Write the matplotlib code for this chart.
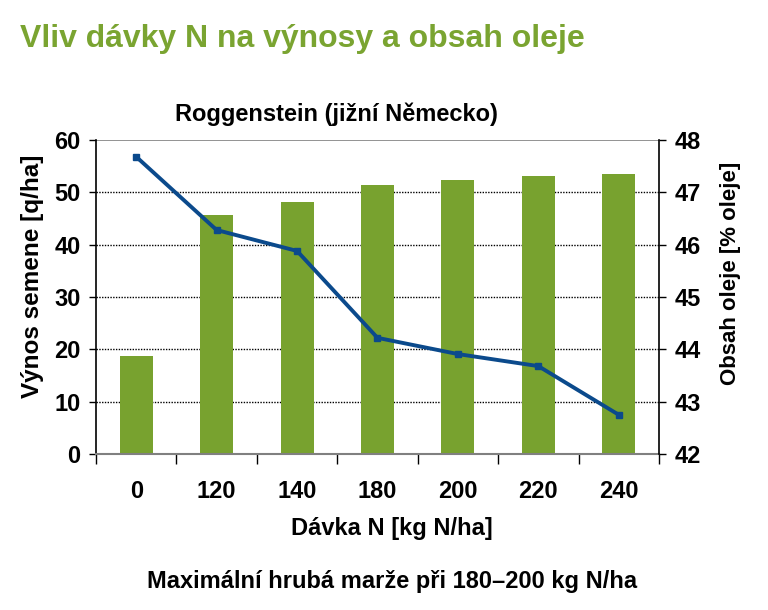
import matplotlib.pyplot as plt
import numpy as np

# data
davky = ["0", "120", "140", "180", "200", "220", "240"]
vynos = [18.7, 45.7, 48.2, 51.4, 52.4, 53.1, 53.5]        # q/ha
olej = [47.68, 46.28, 45.88, 44.22, 43.91, 43.68, 42.75]  # % oleje

green = "#78A22F"
blue = "#0B4A8C"

plt.rcParams["font.family"] = ["Liberation Sans", "DejaVu Sans"]
plt.rcParams["font.weight"] = "bold"

fig = plt.figure(figsize=(7.68, 6.10), dpi=100)
ax = fig.add_axes([0.125, 0.2557, 0.733, 0.5148])

x = np.arange(len(davky))
ax.bar(x, vynos, width=0.41, color=green, zorder=2)
ax.set_xlim(-0.5, len(davky) - 0.5)
ax.set_ylim(0, 60)
ax.set_yticks(range(0, 61, 10))

# gridlines: dotted, top one solid gray
for v in range(10, 60, 10):
    ax.axhline(v, color="black", lw=1, ls=(0, (1, 1)), zorder=1)
ax.axhline(60, color="#808080", lw=1.2, zorder=1)

ax.set_xticks(x)
ax.set_xticklabels(davky)
ax.set_xticks(np.arange(-0.5, len(davky), 1), minor=True)
ax.tick_params(axis="x", which="major", length=0, pad=19, labelsize=17)
ax.tick_params(axis="x", which="minor", length=7, width=1, color="black")
ax.tick_params(axis="y", length=5, width=1, labelsize=17, pad=6)

ax.spines["top"].set_visible(False)
ax.spines["right"].set_visible(False)
ax.spines["bottom"].set_color("#808080")
ax.spines["bottom"].set_linewidth(1.5)
ax.spines["left"].set_linewidth(1.2)

ax.set_ylabel("Výnos semene [q/ha]", fontsize=17.5, fontweight="bold")
ax.yaxis.set_label_coords(-0.093, 0.567)
ax.set_xlabel("Dávka N [kg N/ha]", fontsize=17, fontweight="bold")
ax.xaxis.set_label_coords(0.525, -0.2)
ax.set_title("Roggenstein (jižní Německo)", fontsize=17, fontweight="bold",
             x=0.427, pad=14)

ax2 = ax.twinx()
ax2.plot(x, olej, color=blue, lw=2.8, marker="s", markersize=5, zorder=3)
ax2.set_ylim(42, 48)
ax2.set_yticks(range(42, 49))
ax2.tick_params(axis="y", length=5, width=1, labelsize=17, pad=6)
for s in ["top", "left", "bottom"]:
    ax2.spines[s].set_visible(False)
ax2.spines["right"].set_linewidth(1.2)
ax2.set_ylabel("Obsah oleje [% oleje]", fontsize=16, fontweight="bold")
ax2.yaxis.set_label_coords(1.109, 0.574)

fig.text(0.026, 0.936, "Vliv dávky N na výnosy a obsah oleje", fontsize=23,
         fontweight="bold", color="#7AA431", va="center")
fig.text(0.51, 0.046, "Maximální hrubá marže při 180–200 kg N/ha", fontsize=17,
         fontweight="bold", ha="center", va="center")

fig.savefig("out.png", dpi=100)
